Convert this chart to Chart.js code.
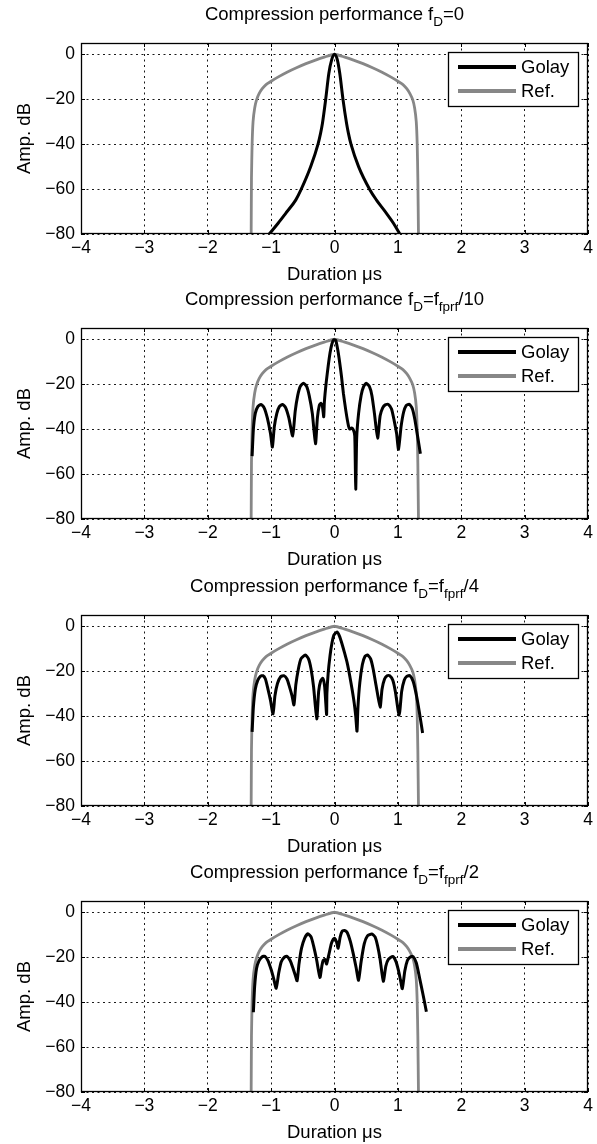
<!DOCTYPE html>
<html>
<head>
<meta charset="utf-8">
<script src="https://cdn.jsdelivr.net/npm/chart.js@4/dist/chart.umd.min.js"></script>
<style>
  html, body { margin: 0; padding: 0; background: #fff; }
  #wrap { position: relative; width: 597px; height: 1144px; overflow: hidden; }
  #wrap canvas { position: absolute; left: 0; }
</style>
</head>
<body>
<div id="wrap"></div>
<script>
// ---- axes / labels ----
const xTickValues = [-4, -3, -2, -1, 0, 1, 2, 3, 4];
const yTickValues = [-80, -60, -40, -20, 0];
const xLabel = 'Duration \u03bcs';
const yLabel = 'Amp. dB';
const seriesNames = ['Golay', 'Ref.'];

// ---- reference (uncoded) pulse response, dB ----
const refX  = [-1.315, -1.31, -1.30, -1.285, -1.26, -1.23, -1.19, -1.14, -1.08, -1.00, -0.90, -0.75, -0.60, -0.45, -0.30, -0.15, 0,
               0.15, 0.30, 0.45, 0.60, 0.75, 0.90, 1.00, 1.08, 1.14, 1.19, 1.235, 1.265, 1.29, 1.305, 1.315, 1.325];
const refDb = [-80, -55, -40, -30, -24, -20.3, -17.5, -15.3, -13.5, -12, -10.3, -8, -6, -4.2, -2.6, -1.2, 0,
               -1.2, -2.6, -4.2, -6, -8, -10.3, -12, -13.5, -15.3, -17.5, -20.3, -24, -30, -40, -55, -80];

// ---- Golay compressed output, fD = 0 ----
const golayZeroX  = [-1.03, -0.89, -0.77, -0.61, -0.53, -0.375, -0.26, -0.22, -0.19, -0.14, -0.089, -0.045, 0,
                     0.045, 0.083, 0.135, 0.19, 0.22, 0.26, 0.38, 0.56, 0.66, 0.82, 0.93, 1.03];
const golayZeroDb = [-80, -75.2, -70.8, -64.8, -60.4, -50, -40, -35.2, -30.7, -20.3, -8.5, -2.5, 0,
                     -2.5, -8.5, -20.3, -30.7, -35.2, -40, -50, -60.4, -64.8, -70.8, -75.2, -80];

// ---- Golay, fD = fprf/10 ----
const golayTenthX  = [-1.30, -1.28, -1.25, -1.21, -1.16, -1.11, -1.06, -1.01, -0.98, -0.95, -0.91, -0.87, -0.82, -0.77, -0.72, -0.66,
                      -0.62, -0.58, -0.54, -0.49, -0.44, -0.40, -0.35, -0.30, -0.27, -0.24, -0.215, -0.19, -0.17, -0.16, -0.13,
                      -0.10, -0.07, -0.04, -0.01, 0.02, 0.05, 0.08, 0.11, 0.14, 0.18, 0.22, 0.24, 0.27, 0.30, 0.32, 0.335, 0.35,
                      0.38, 0.42, 0.46, 0.50, 0.55, 0.59, 0.63, 0.68, 0.72, 0.76, 0.80, 0.85, 0.90, 0.94, 0.98, 1.01, 1.05,
                      1.09, 1.13, 1.18, 1.23, 1.27, 1.31, 1.355];
const golayTenthDb = [-52, -40, -33, -30, -29, -30.5, -35, -42, -48, -39, -33, -30, -29, -30.5, -35, -43,
                      -32, -25, -21, -19.6, -21, -25, -33, -46.5, -35, -29.5, -28.5, -30, -34.5, -28, -19,
                      -12, -6, -2, -0.2, -0.5, -4.5, -10, -16.5, -24, -32, -38.5, -40, -39.5, -40.5, -43, -66.7, -44,
                      -33, -25, -21, -19.6, -21, -25, -33, -44, -34, -30.5, -29.2, -29, -31, -36, -42, -49, -39,
                      -32.5, -29.5, -29, -31, -36, -43, -51];

// ---- Golay, fD = fprf/4 ----
const golayQuarterX  = [-1.30, -1.28, -1.25, -1.21, -1.17, -1.13, -1.09, -1.05, -1.01, -0.97, -0.94, -0.90, -0.85, -0.80, -0.75,
                        -0.71, -0.67, -0.64, -0.61, -0.57, -0.53, -0.46, -0.41, -0.37, -0.33, -0.28, -0.25, -0.22, -0.185,
                        -0.155, -0.125, -0.12, -0.10, -0.07, -0.04, -0.01, 0.04, 0.08, 0.12, 0.16, 0.20, 0.24, 0.28, 0.31,
                        0.335, 0.355, 0.37, 0.40, 0.44, 0.48, 0.52, 0.57, 0.61, 0.66, 0.72, 0.75, 0.79, 0.83, 0.87, 0.92,
                        0.96, 1.02, 1.06, 1.10, 1.14, 1.19, 1.24, 1.28, 1.32, 1.36, 1.39];
const golayQuarterDb = [-47, -36, -28, -24, -22.3, -22, -23.5, -28, -33, -39, -31, -25.5, -22.5, -22, -23.5,
                        -27, -31, -35, -26, -19, -14.5, -12.8, -14.5, -19, -27, -41.2, -29, -24.5, -23.2,
                        -27, -39.3, -30, -21, -13, -7.5, -4, -2.6, -4.5, -8, -12, -16.3, -22, -28.5, -34,
                        -40, -46.7, -36, -25, -17, -13.5, -12.8, -14.5, -19, -27, -36, -28, -23.5, -22, -22, -24,
                        -29, -39.6, -29, -24, -22.3, -22, -24.5, -29, -35, -42, -47.5];

// ---- Golay, fD = fprf/2 ----
const golayHalfX  = [-1.28, -1.26, -1.23, -1.19, -1.14, -1.10, -1.05, -1.00, -0.96, -0.92, -0.88, -0.84, -0.79, -0.75, -0.70,
                     -0.66, -0.62, -0.59, -0.56, -0.52, -0.47, -0.42, -0.37, -0.33, -0.28, -0.23, -0.20, -0.18, -0.15,
                     -0.125, -0.09, -0.05, -0.02, 0.0, 0.03, 0.057, 0.09, 0.12, 0.16, 0.20, 0.25, 0.30, 0.34, 0.38, 0.42,
                     0.47, 0.52, 0.59, 0.64, 0.68, 0.72, 0.77, 0.81, 0.85, 0.92, 0.97, 1.01, 1.04, 1.07, 1.11, 1.15,
                     1.19, 1.24, 1.29, 1.33, 1.37, 1.41, 1.45];
const golayHalfDb = [-44.5, -33, -25, -21.5, -19.8, -19.6, -21.5, -25.5, -29.5, -33.8, -27, -22, -20, -19.6, -21.5,
                     -24.5, -28, -30.5, -23, -16, -11.5, -9.6, -11, -15, -21.5, -29, -24, -21.5, -21,
                     -23, -19, -14, -12, -11.6, -13, -16, -11, -8.5, -8.1, -9, -13, -19, -24.5, -30.3, -22,
                     -14, -10.5, -9.7, -11, -15, -21, -30.7, -24, -21, -19.7, -22, -26, -30, -34, -26, -21.5,
                     -20, -19.7, -22.5, -27.5, -33, -38.5, -44.3];

// ---- panel titles: [text, isSubscript] ----
const titleZero    = [['Compression performance f', 0], ['D', 1], ['=0', 0]];
const titleTenth   = [['Compression performance f', 0], ['D', 1], ['=f', 0], ['fprf', 1], ['/10', 0]];
const titleQuarter = [['Compression performance f', 0], ['D', 1], ['=f', 0], ['fprf', 1], ['/4', 0]];
const titleHalf    = [['Compression performance f', 0], ['D', 1], ['=f', 0], ['fprf', 1], ['/2', 0]];

const FONT = '"Liberation Sans", Arial, Helvetica, sans-serif';
const BLACK = '#000000';
const GREY = '#878787';
const W = 597, H = 286;

const panels = [
  { top: 0,   title: titleZero,    gx: golayZeroX,    gy: golayZeroDb,    smooth: true },
  { top: 285, title: titleTenth,   gx: golayTenthX,   gy: golayTenthDb,   smooth: false },
  { top: 572, title: titleQuarter, gx: golayQuarterX, gy: golayQuarterDb, smooth: false },
  { top: 858, title: titleHalf,    gx: golayHalfX,    gy: golayHalfDb,    smooth: false },
];

const toPoints = (xs, ys) => xs.map((x, i) => ({ x: x, y: ys[i] }));
const fmtTick = v => (v < 0 ? '\u2212' + Math.abs(v) : String(v));

function drawRichTitle(ctx, parts, cx, baseline) {
  const mainFont = '18.5px ' + FONT;
  const subFont = '13.5px ' + FONT;
  let total = 0;
  const widths = parts.map(([t, sub]) => {
    ctx.font = sub ? subFont : mainFont;
    const w = ctx.measureText(t).width;
    total += w;
    return w;
  });
  let x = cx - total / 2;
  ctx.fillStyle = '#000';
  ctx.textAlign = 'left';
  ctx.textBaseline = 'alphabetic';
  parts.forEach(([t, sub], i) => {
    ctx.font = sub ? subFont : mainFont;
    ctx.fillText(t, x, baseline + (sub ? 6.5 : 0));
    x += widths[i];
  });
}

// Box, inward tick marks, legend and title in the style of a MATLAB axes
function makeFramePlugin(titleParts) {
  return {
    id: 'matlabFrame',
    afterDatasetsDraw(chart) {
      const { ctx, chartArea: ca, scales } = chart;
      const xs = scales.x, ys = scales.y;
      const tl = 4;
      ctx.save();
      ctx.strokeStyle = '#000';
      ctx.lineWidth = 1;
      ctx.beginPath();
      xs.ticks.forEach(t => {
        const px = Math.round(xs.getPixelForValue(t.value)) + 0.5;
        ctx.moveTo(px, ca.bottom); ctx.lineTo(px, ca.bottom - tl);
        ctx.moveTo(px, ca.top); ctx.lineTo(px, ca.top + tl);
      });
      ys.ticks.forEach(t => {
        const py = Math.round(ys.getPixelForValue(t.value)) + 0.5;
        ctx.moveTo(ca.left, py); ctx.lineTo(ca.left + tl, py);
        ctx.moveTo(ca.right, py); ctx.lineTo(ca.right - tl, py);
      });
      ctx.stroke();
      ctx.lineWidth = 1.3;
      ctx.strokeRect(ca.left + 0.5, ca.top + 0.5, ca.right - ca.left - 1, ca.bottom - ca.top - 1);

      // legend
      const lw = 130, lh = 54;
      const lx = ca.right - 140, ly = ca.top + 9;
      ctx.fillStyle = '#fff';
      ctx.fillRect(lx, ly, lw, lh);
      ctx.lineWidth = 1.3;
      ctx.strokeStyle = '#000';
      ctx.strokeRect(lx + 0.5, ly + 0.5, lw, lh);
      chart.data.datasets.forEach((ds, i) => {
        const yy = ly + 15 + i * 24;
        ctx.strokeStyle = ds.borderColor;
        ctx.lineWidth = 4;
        ctx.beginPath();
        ctx.moveTo(lx + 10, yy);
        ctx.lineTo(lx + 68, yy);
        ctx.stroke();
        ctx.fillStyle = '#000';
        ctx.font = '18.5px ' + FONT;
        ctx.textAlign = 'left';
        ctx.textBaseline = 'middle';
        ctx.fillText(ds.label, lx + 73, yy + 1);
      });

      drawRichTitle(ctx, titleParts, (ca.left + ca.right) / 2, 19.5);
      ctx.restore();
    }
  };
}

const wrap = document.getElementById('wrap');

panels.forEach(p => {
  const cv = document.createElement('canvas');
  cv.width = W; cv.height = H;
  cv.style.top = p.top + 'px';
  cv.style.width = W + 'px';
  cv.style.height = H + 'px';
  wrap.appendChild(cv);

  new Chart(cv.getContext('2d'), {
    type: 'line',
    data: {
      datasets: [
        {
          label: seriesNames[0],
          data: toPoints(p.gx, p.gy),
          borderColor: BLACK,
          borderWidth: 3,
          cubicInterpolationMode: p.smooth ? 'monotone' : 'default',
          tension: p.smooth ? 0 : 0.2,
          pointRadius: 0,
          fill: false
        },
        {
          label: seriesNames[1],
          data: toPoints(refX, refDb),
          borderColor: GREY,
          borderWidth: 2.8,
          tension: 0.15,
          pointRadius: 0,
          fill: false
        }
      ]
    },
    options: {
      responsive: false,
      animation: false,
      devicePixelRatio: 1,
      events: [],
      layout: { padding: { top: 43, right: 9, left: 0, bottom: 0 } },
      plugins: {
        legend: { display: false },
        title: { display: false },
        tooltip: { enabled: false }
      },
      scales: {
        x: {
          type: 'linear',
          min: -4, max: 4,
          afterBuildTicks: s => { s.ticks = xTickValues.map(v => ({ value: v })); },
          afterFit: s => { s.height = 52; },
          ticks: {
            autoSkip: false, maxRotation: 0, padding: 4, color: '#000',
            font: { family: FONT, size: 17.5 },
            callback: v => fmtTick(v)
          },
          grid: { color: '#1a1a1a', lineWidth: 1, drawTicks: false },
          border: { display: false, dash: [2, 3.5] },
          title: {
            display: true, text: xLabel, color: '#000',
            font: { family: FONT, size: 18.5 },
            padding: { top: 0, bottom: 0 }
          }
        },
        y: {
          type: 'linear',
          min: -80, max: 5,
          afterBuildTicks: s => { s.ticks = yTickValues.map(v => ({ value: v })); },
          afterFit: s => { s.width = 81; },
          ticks: {
            padding: 6, color: '#000',
            font: { family: FONT, size: 17.5 },
            callback: v => fmtTick(v)
          },
          grid: { color: '#1a1a1a', lineWidth: 1, drawTicks: false },
          border: { display: false, dash: [2, 3.5] },
          title: {
            display: true, text: yLabel, color: '#000',
            font: { family: FONT, size: 18.5 },
            padding: { top: 14, bottom: 0 }
          }
        }
      }
    },
    plugins: [makeFramePlugin(p.title)]
  });
});
</script>
</body>
</html>
